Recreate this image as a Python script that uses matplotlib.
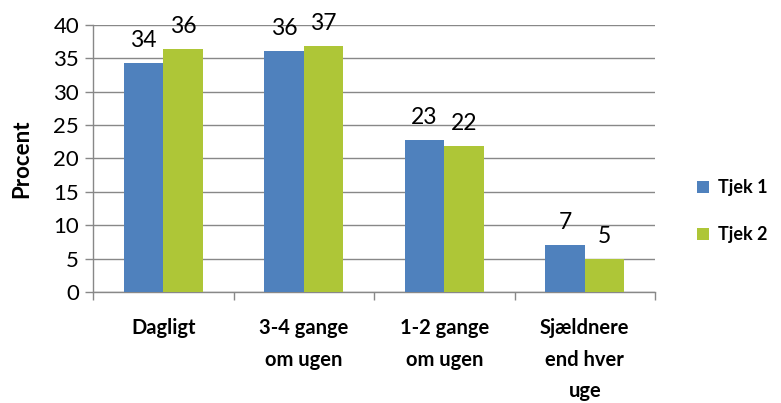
import numpy as np
import matplotlib.pyplot as plt

plt.rcParams['font.family'] = ['Lato', 'DejaVu Sans']

# data
categories = ["Dagligt", "3-4 gange\nom ugen", "1-2 gange\nom ugen", "Sjældnere\nend hver\nuge"]
tjek1 = [34.3, 36.1, 22.7, 7.0]
tjek2 = [36.4, 36.9, 21.9, 5.0]
labels1 = ["34", "36", "23", "7"]
labels2 = ["36", "37", "22", "5"]
series_names = ["Tjek 1", "Tjek 2"]

blue = '#4F81BD'
green = '#AEC637'
grey = '#888888'

fig = plt.figure(figsize=(7.81, 4.03), dpi=100)
ax = fig.add_axes([93 / 781, 1 - 292 / 403, (655 - 93) / 781, (292 - 25) / 403])

x = np.arange(len(categories))
w = 0.28
b1 = ax.bar(x - w / 2, tjek1, w, color=blue, label=series_names[0], zorder=3)
b2 = ax.bar(x + w / 2, tjek2, w, color=green, label=series_names[1], zorder=3)

# værdier over søjlerne
for bars, labs in [(b1, labels1), (b2, labels2)]:
    for r, t in zip(bars, labs):
        ax.text(r.get_x() + r.get_width() / 2, r.get_height() + 1.8, t,
                ha='center', va='bottom', fontsize=16.5, color='black')

ax.set_xlim(-0.5, 3.5)
ax.set_ylim(0, 40)
ax.set_yticks(range(0, 41, 5))
ax.yaxis.grid(True, color=grey, linewidth=1, zorder=0)
ax.set_axisbelow(True)

ax.set_xticks(x)
ax.set_xticklabels(categories, fontsize=14.5, fontweight='bold', linespacing=1.7, va='top')
ax.set_xticks(np.arange(-0.5, 4, 1), minor=True)
ax.tick_params(axis='x', which='major', length=0, pad=19)
ax.tick_params(axis='x', which='minor', length=6, color=grey, width=1)
ax.tick_params(axis='y', length=6, color=grey, width=1, labelsize=16, pad=4)

for s in ['top', 'right']:
    ax.spines[s].set_visible(False)
for s in ['left', 'bottom']:
    ax.spines[s].set_color(grey)
    ax.spines[s].set_linewidth(1)

ax.set_ylabel("Procent", fontsize=16, fontweight='bold')
ax.yaxis.set_label_coords(-0.108, 0.5)

leg = fig.legend(loc='center left', bbox_to_anchor=(697 / 781, 1 - 211 / 403),
                 frameon=False, borderpad=0, borderaxespad=0,
                 handlelength=0.65, handleheight=0.65,
                 handletextpad=0.5, labelspacing=1.65,
                 prop={'weight': 'bold', 'size': 13})

fig.savefig("out.png", dpi=100)
